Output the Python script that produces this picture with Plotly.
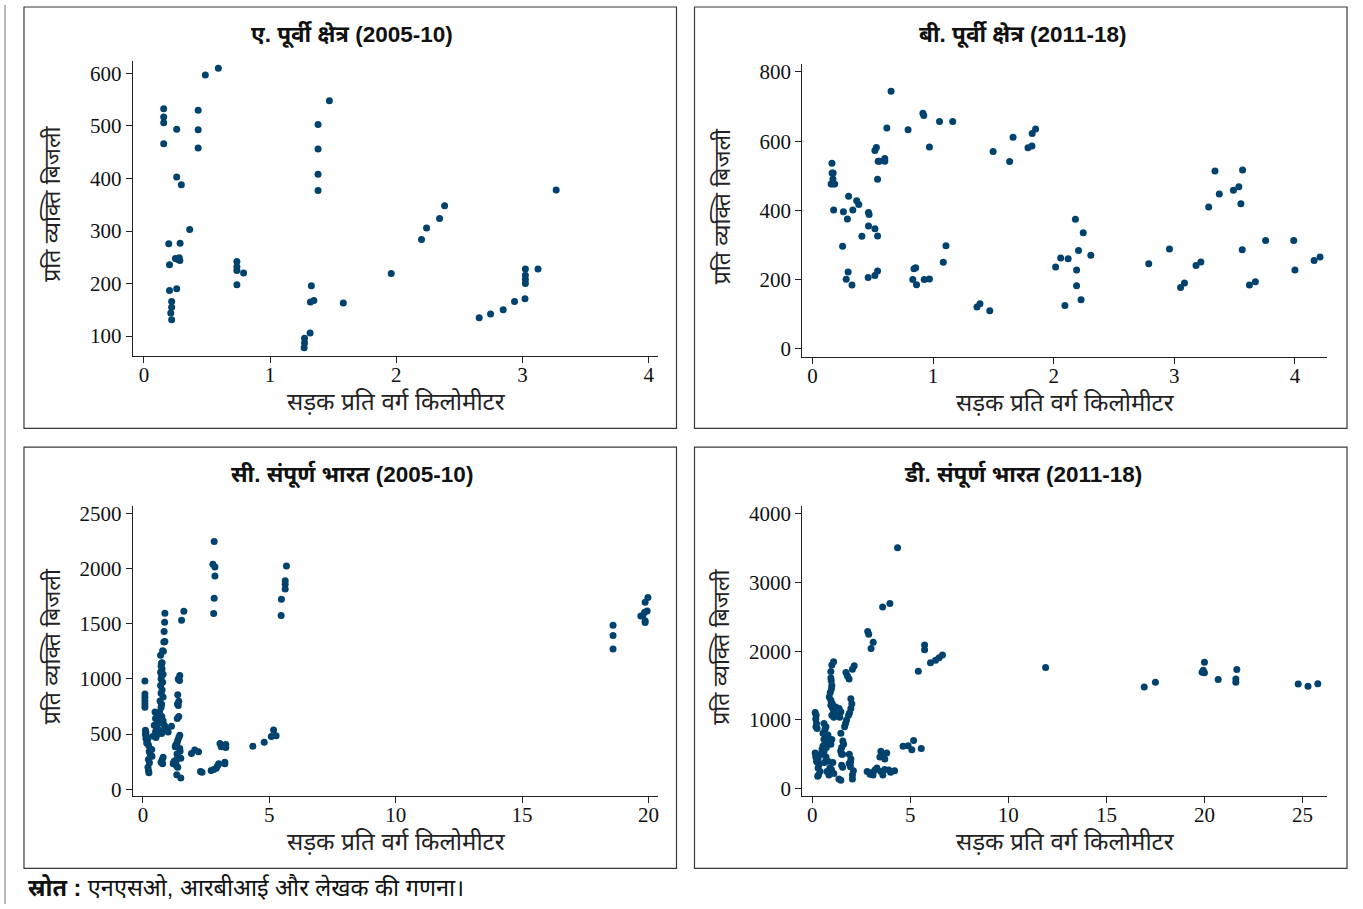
import plotly.graph_objects as go

W, H = 1363, 909

# ---------------- data ----------------
# Panel A: East region 2005-10
a_x = [0.157, 0.157, 0.157, 0.157, 0.487, 0.59, 0.26, 0.43, 0.43, 0.43, 0.26, 0.297, 0.363,
       0.197, 0.287, 0.203, 0.25, 0.27, 0.285, 0.28, 0.203, 0.26, 0.22, 0.22, 0.213, 0.22,
       0.737, 0.737, 0.737, 0.79, 0.737, 1.47, 1.38, 1.38, 1.38, 1.38, 1.327, 1.32, 1.347,
       1.58, 1.317, 1.273, 1.273, 1.27, 1.96, 2.2, 2.24, 2.343, 2.383, 2.657, 2.747, 2.847,
       2.937, 3.02, 3.023, 3.023, 3.023, 3.023, 3.123, 3.267]
a_y = [533, 517, 506, 466, 597, 610, 494, 530, 493, 458, 403, 388, 303,
       276, 277, 236, 248, 246, 244, 249, 187, 190, 166, 155, 144, 131,
       242, 232, 225, 220, 198, 548, 503, 456, 408, 377, 196, 165, 168,
       163, 106, 96, 87, 78, 219, 284, 306, 324, 348, 135, 142, 150,
       166, 171, 228, 216, 208, 200, 228, 378]

# Panel B: East region 2011-18
b_x = [0.162, 0.163, 0.172, 0.17, 0.155, 0.17, 0.185, 0.176, 0.257, 0.335, 0.3, 0.367, 0.384,
       0.465, 0.47, 0.29, 0.465, 0.518, 0.41, 0.54, 0.25, 0.296, 0.28, 0.328, 0.462, 0.518,
       0.54, 0.53, 0.518, 0.545, 0.555, 0.6, 0.6, 0.54, 0.617, 0.652, 0.793, 0.916, 0.923,
       0.97, 1.054, 1.163, 1.107, 1.085, 0.842, 0.856, 0.832, 0.863, 0.927, 0.97, 1.364,
       1.389, 1.47, 1.498, 1.635, 1.663, 1.787, 1.82, 1.822, 1.85, 2.016, 2.058, 2.12, 2.093,
       2.18, 2.19, 2.19, 2.206, 2.227, 2.245, 2.308, 2.788, 2.96, 3.052, 3.084, 3.18, 3.22,
       3.285, 3.337, 3.373, 3.49, 3.535, 3.552, 3.566, 3.563, 3.623, 3.672, 3.757, 3.99,
       4.0, 4.159, 4.208]
b_y = [536, 508, 508, 491, 476, 476, 476, 401, 396, 401, 441, 428, 417,
       394, 388, 375, 355, 347, 325, 326, 296, 222, 201, 184, 206, 212,
       225, 582, 573, 542, 542, 550, 542, 490, 638, 744, 633, 681, 674,
       583, 657, 657, 298, 250, 231, 234, 200, 185, 200, 202, 121,
       130, 110, 570, 541, 611, 581, 586, 622, 635, 236, 262, 260, 125,
       374, 228, 182, 284, 142, 335, 270, 246, 288, 177, 190, 241, 251,
       410, 514, 447, 458, 468, 419, 517, 286, 184, 194, 313, 313,
       228, 255, 265]

# Panel C: All India 2005-10
c_x = [2.82, 2.77, 2.85, 2.85, 2.82, 2.8, 5.68, 5.63, 5.63, 5.63, 5.48, 5.47,
       18.6, 18.6, 18.6, 19.98, 19.87, 19.95, 19.85, 19.7, 19.78, 19.87, 19.87,
       4.35, 4.8, 5.17, 5.08, 5.27, 3.28, 3.28, 1.62, 1.53,
       0.08, 0.08, 0.08, 0.08, 0.08, 0.08, 0.1, 0.12, 0.1, 0.14, 0.12, 0.18, 0.15,
       0.22, 0.28, 0.25, 0.3, 0.22, 0.26, 0.2, 0.22, 0.24, 0.3, 0.35, 0.36,
       0.48, 0.55, 0.5, 0.6, 0.65, 0.45, 0.55, 0.62, 0.5, 0.58, 0.4, 0.52,
       0.87, 0.86, 0.84, 0.83, 0.87, 0.81, 0.78, 0.7, 0.74, 0.72, 0.76, 0.7, 0.74,
       0.72, 0.78, 0.7, 0.76, 0.72, 0.8, 0.68, 0.74, 0.72, 0.66, 0.75, 0.8, 0.85,
       0.9, 0.78, 0.74, 0.8, 0.76, 0.72, 0.78, 0.76, 0.8,
       1.46, 1.4, 1.45, 1.38, 1.42, 1.37, 1.4, 1.42, 1.36, 1.13, 1.0, 1.46, 1.42,
       1.38, 1.35, 1.3, 1.28, 1.46, 1.47, 1.35, 1.4, 1.5, 1.25, 1.22, 1.2, 1.32,
       1.38, 1.5, 1.34, 1.26, 1.33,
       1.92, 2.05, 2.2, 2.34, 2.28, 2.7, 2.8, 2.9, 2.95, 3.0, 3.05, 3.1, 3.24, 3.24,
       1.65, 1.8]
c_y = [2245, 2040, 2013, 1932, 1731, 1593, 2022, 1890, 1857, 1815, 1722, 1575,
       1487, 1394, 1271, 1737, 1695, 1615, 1605, 1570, 1575, 1526, 1511,
       390, 427, 538, 478, 484, 406, 378, 1613, 1532,
       982, 863, 833, 803, 773, 743, 535, 515, 495, 480, 460, 445, 420,
       400, 370, 340, 300, 270, 240, 200, 170, 150, 310, 360, 300,
       700, 655, 640, 620, 600, 580, 560, 540, 520, 500, 480, 470,
       1594, 1514, 1430, 1334, 1340, 1250, 1255, 1214, 1145, 1120, 1090, 1060, 1030,
       1000, 970, 940, 900, 870, 835, 800, 770, 740, 700, 660, 620, 580,
       560, 520, 505, 290, 265, 245, 230,
       1146, 1043, 1030, 1000, 985, 857, 797, 773, 760, 660, 640, 570, 518,
       490, 470, 445, 420, 400, 386, 370, 345, 320, 290, 280, 255, 245,
       230, 215, 200, 101, 131,
       235, 265, 325, 355, 340, 155, 160, 170, 180, 190, 210, 230, 415, 385,
       230, 245]

# Panel D: All India 2011-18
d_x = [4.35, 3.59, 3.96, 2.83, 2.88, 3.11, 3.0, 5.73, 5.73, 5.41, 6.03, 6.29, 6.47, 6.64,
       11.9, 16.93, 17.5, 20.0, 19.94, 20.0, 19.88, 20.7, 21.65, 21.6, 21.6, 24.78,
       25.28, 25.78, 4.89, 5.17, 5.08, 5.56, 4.63,
       0.15, 0.2, 0.18, 0.22, 0.19, 0.25, 0.15, 0.2, 0.25, 0.18, 0.3, 0.22, 0.26, 0.35,
       0.3, 0.4, 0.32, 0.28,
       0.6, 0.7, 0.65, 0.55, 0.8, 0.75, 0.6, 0.7, 0.85, 0.65, 0.55, 0.72, 0.5, 0.6,
       0.45, 0.7, 0.8, 0.62, 0.9, 0.75, 0.85,
       1.09, 1.0, 0.95, 0.95, 0.97, 1.0, 0.98, 0.92, 0.87, 0.95, 1.02, 0.95, 1.03, 1.05,
       1.1, 1.0, 1.1, 1.0, 0.95, 1.05, 0.98, 1.1,
       1.2, 1.37, 1.46, 1.3, 1.4, 1.46, 1.5, 1.45, 1.55, 1.5, 1.55, 1.36, 1.46,
       2.14, 2.05, 1.72, 1.88, 1.8, 1.97, 2.02, 1.97, 1.9, 1.85, 1.75, 1.7, 1.65,
       1.56, 1.6, 1.5, 1.89, 1.97, 1.95, 1.88, 1.95, 2.1, 2.05, 2.05,
       2.8, 3.0, 3.1, 3.2, 3.5, 3.6, 3.7, 3.9, 4.0, 4.2, 3.5, 3.8, 3.6, 3.7, 3.3, 2.95, 3.45]
d_y = [3507, 2647, 2695, 2289, 2250, 2131, 2040, 2093, 2021, 1710, 1835, 1868, 1906, 1945,
       1763, 1481, 1548, 1839, 1725, 1687, 1696, 1591, 1734, 1596, 1548, 1524,
       1491, 1529, 626, 702, 568, 583, 616,
       1110, 1070, 1015, 950, 900, 876, 520, 500, 480, 460, 440, 400, 385, 350,
       300, 250, 200, 180,
       950, 900, 860, 807, 780, 750, 720, 700, 680, 650, 620, 600, 570, 540,
       500, 460, 400, 380, 300, 250, 200,
       1849, 1800, 1706, 1610, 1573, 1501, 1453, 1400, 1333, 1286, 1240, 1214, 1190, 1166,
       1118, 1070, 1040, 716, 645, 380, 280, 220,
       1190, 1166, 1118, 1070, 1040, 807, 600, 550, 500, 340, 310, 140, 124,
       1788, 1739, 1692, 1596, 1640, 1309, 1237, 1166, 1100, 1070, 1000, 950, 900,
       693, 645, 500, 500, 430, 385, 365, 320, 260, 200, 139,
       250, 230, 200, 270, 250, 200, 280, 270, 240, 260, 545, 520, 480, 430, 300, 210, 460]

titles = ["ए. पूर्वी क्षेत्र (2005-10)", "बी. पूर्वी क्षेत्र (2011-18)",
          "सी. संपूर्ण भारत (2005-10)", "डी. संपूर्ण भारत (2011-18)"]
x_title = "सड़क प्रति वर्ग किलोमीटर"
y_title = "प्रति व्यक्ति बिजली"
source_text = "<b>स्रोत :</b> एनएसओ, आरबीआई और लेखक की गणना।"

a_xticks = [0, 1, 2, 3, 4]; a_yticks = [100, 200, 300, 400, 500, 600]
b_xticks = [0, 1, 2, 3, 4]; b_yticks = [0, 200, 400, 600, 800]
c_xticks = [0, 5, 10, 15, 20]; c_yticks = [0, 500, 1000, 1500, 2000, 2500]
d_xticks = [0, 5, 10, 15, 20, 25]; d_yticks = [0, 1000, 2000, 3000, 4000]

# ---------------- layout geometry (pixels) ----------------
def px(x):
    return x / W

def py(y):
    return 1 - y / H

MARK = "#00426e"
TICKFONT = dict(family="Liberation Serif, Times New Roman, serif", size=21, color="#111111")
TXTFONT = "Liberation Sans, Arial, Noto Sans, sans-serif"

panels = [
    dict(x=a_x, y=a_y, xt=a_xticks, yt=a_yticks, xr=[-0.087, 4.07], yr=[62, 623],
         xd=[133, 658], yd=[57, 355], box=[24, 2, 677, 428]),
    dict(x=b_x, y=b_y, xt=b_xticks, yt=b_yticks, xr=[-0.083, 4.266], yr=[-24, 822],
         xd=[803, 1328], yd=[60, 356], box=[695, 2, 1348, 428]),
    dict(x=c_x, y=c_y, xt=c_xticks, yt=c_yticks, xr=[-0.395, 20.36], yr=[-63, 2563],
         xd=[133, 658], yd=[507, 800], box=[24, 447, 677, 873]),
    dict(x=d_x, y=d_y, xt=d_xticks, yt=d_yticks, xr=[-0.5, 26.25], yr=[-110, 4110],
         xd=[803, 1328], yd=[507, 800], box=[695, 447, 1348, 873]),
]

fig = go.Figure()
shapes = []
annotations = []
layout_axes = {}

for i, p in enumerate(panels):
    n = "" if i == 0 else str(i + 1)
    xa, ya = "x" + n, "y" + n
    fig.add_trace(go.Scatter(
        x=p["x"], y=p["y"], mode="markers", xaxis=xa, yaxis=ya,
        marker=dict(color=MARK, size=7, line=dict(width=0)),
        showlegend=False, hoverinfo="x+y"))
    common = dict(showline=True, linecolor="#222222", linewidth=1.2, ticks="outside",
                  ticklen=6, tickcolor="#222222", tickwidth=1.2, showgrid=False,
                  zeroline=False, tickfont=TICKFONT)
    layout_axes["xaxis" + n] = dict(
        domain=[px(p["xd"][0]), px(p["xd"][1])], range=p["xr"], tickvals=p["xt"],
        anchor=ya, ticklabelstandoff=-6, **common)
    layout_axes["yaxis" + n] = dict(
        domain=[py(p["yd"][1]), py(p["yd"][0])], range=p["yr"], tickvals=p["yt"],
        anchor=xa, **common)
    bx0, by0, bx1, by1 = p["box"]
    shapes.append(dict(type="rect", xref="paper", yref="paper",
                       x0=px(bx0), x1=px(bx1), y0=py(by1), y1=py(by0),
                       line=dict(color="#3a3a3a", width=1.2), fillcolor="rgba(0,0,0,0)"))
    cx = (bx0 + bx1) / 2
    annotations.append(dict(text="<b>" + titles[i] + "</b>", xref="paper", yref="paper",
                            x=px(cx + 2), y=py(by0 + 28), xanchor="center", yanchor="middle",
                            showarrow=False, font=dict(family=TXTFONT, size=22.5, color="#111111")))
    pcx = (p["xd"][0] + p["xd"][1]) / 2
    annotations.append(dict(text=x_title, xref="paper", yref="paper",
                            x=px(pcx + 1), y=py(p["yd"][1] + 46), xanchor="center",
                            yanchor="middle", showarrow=False,
                            font=dict(family=TXTFONT, size=24, color="#222222")))
    pcy = (p["yd"][0] + p["yd"][1]) / 2
    annotations.append(dict(text=y_title, xref="paper", yref="paper",
                            x=px(p["xd"][0] - 81), y=py(pcy - 5), xanchor="center",
                            yanchor="middle", textangle=-90, showarrow=False,
                            font=dict(family=TXTFONT, size=23, color="#222222")))

# outer left rule
shapes.append(dict(type="line", xref="paper", yref="paper", x0=px(5), x1=px(5), y0=0, y1=1,
                   line=dict(color="#8a8a8a", width=1.2)))

annotations.append(dict(text=source_text, xref="paper", yref="paper", x=px(26), y=py(892),
                        xanchor="left", yanchor="middle", showarrow=False,
                        font=dict(family=TXTFONT, size=23.5, color="#111111")))

fig.update_layout(width=W, height=H, margin=dict(l=0, r=0, t=0, b=0),
                  paper_bgcolor="white", plot_bgcolor="white",
                  shapes=shapes, annotations=annotations, **layout_axes)

fig.write_html("out.html", config={"displayModeBar": False},
               post_script="document.body.style.margin='0';document.body.style.overflow='hidden';")
